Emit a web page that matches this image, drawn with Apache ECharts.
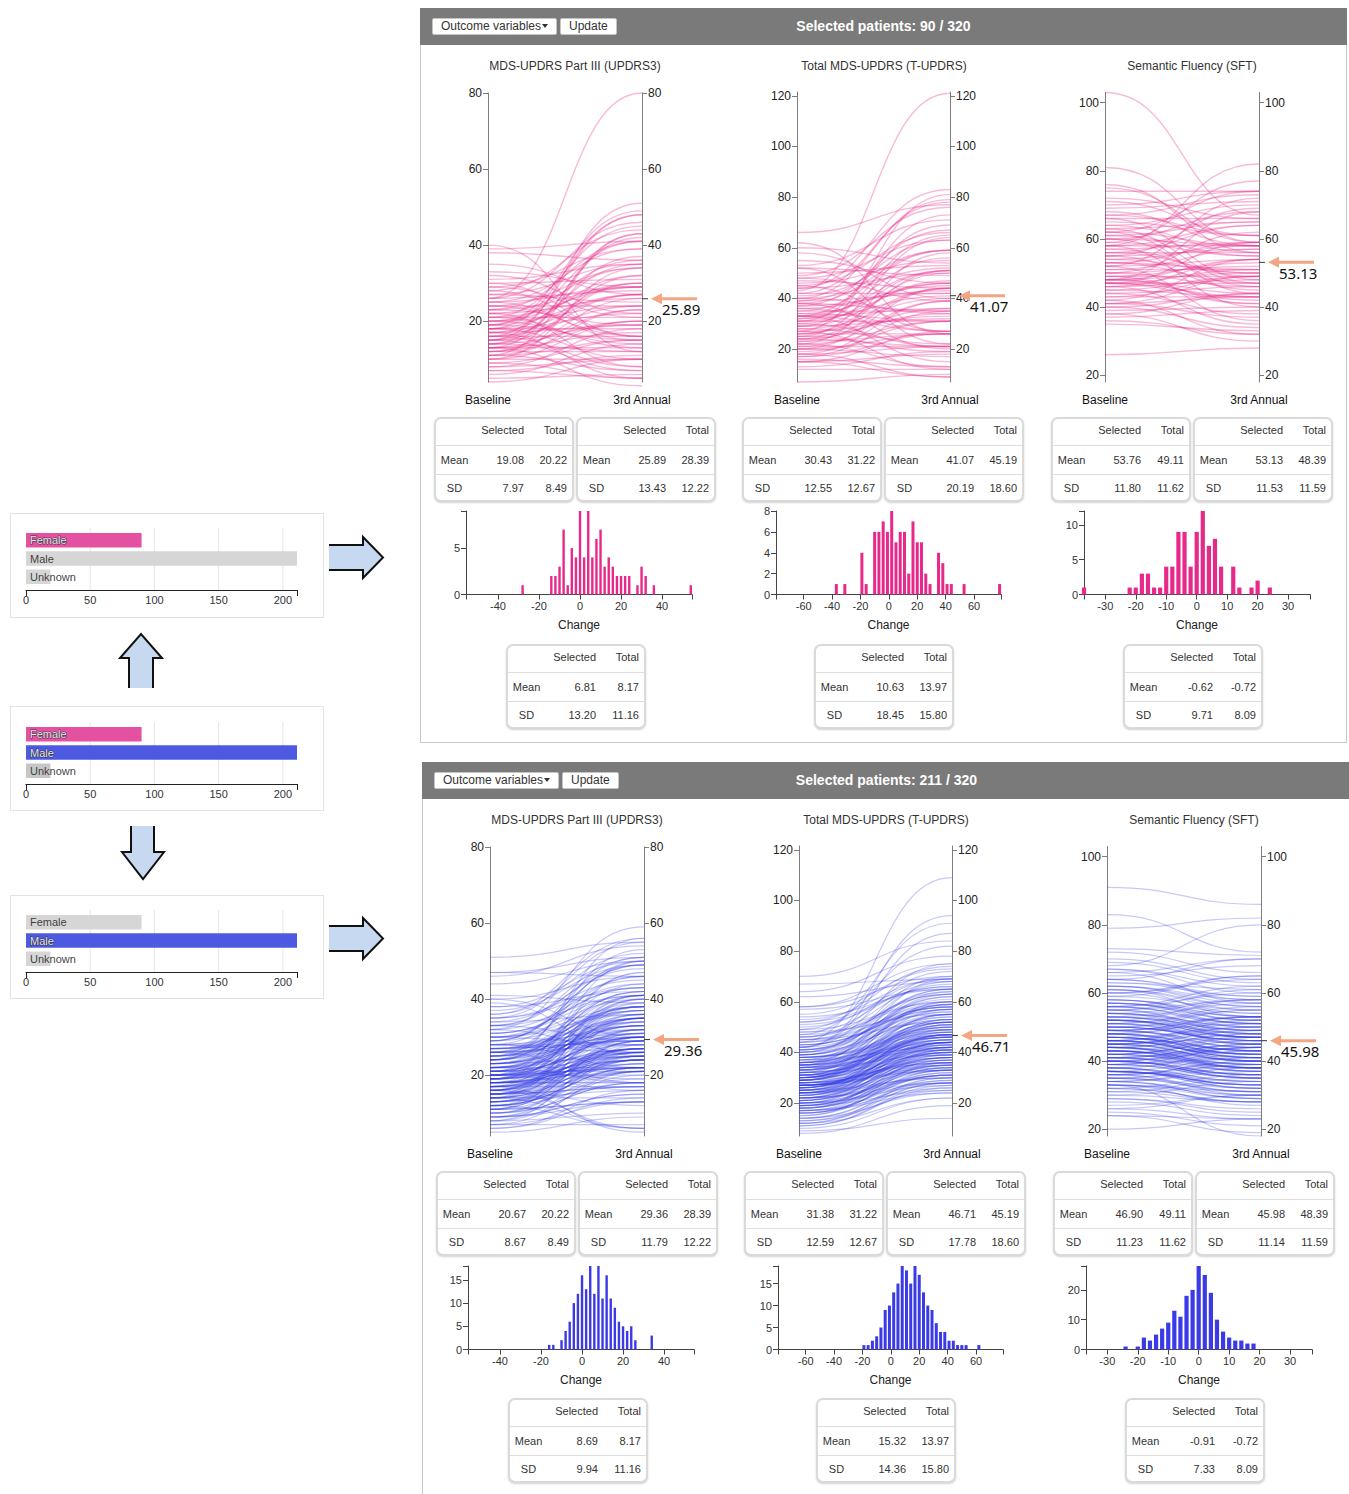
<!DOCTYPE html>
<html lang="en">
<head>
<meta charset="utf-8">
<title>Outcome change by sex</title>
<script src="https://cdn.jsdelivr.net/npm/echarts@6.0.0/dist/echarts.min.js"></script>
<style>
html,body{margin:0;padding:0;background:#fff;}
body{font-family:"Liberation Sans",Arial,Helvetica,sans-serif;color:#333;}
#page{position:relative;width:1349px;height:1494px;overflow:hidden;}
.box{position:absolute;border:1px solid #e3e3e3;background:#fff;}
.panel{position:absolute;border:1px solid #c9c9c9;background:#fff;}
.phead{position:absolute;left:-1px;top:-1px;right:-1px;height:37px;background:#7a7a7a;}
.phead .count{position:absolute;left:0;right:0;top:0;line-height:36px;text-align:center;color:#fff;font-weight:bold;font-size:14px;}
.btn{position:absolute;top:10px;height:15px;line-height:15px;background:#fff;border:1px solid #c4c4c4;border-radius:2px;font-size:12px;color:#333;padding:0 8px;white-space:nowrap;}
.caret{display:inline-block;width:0;height:0;border-left:3.5px solid transparent;border-right:3.5px solid transparent;border-top:4px solid #333;vertical-align:middle;margin-left:1px;margin-top:-2px;}
.otitle{position:absolute;font-size:12px;line-height:14px;color:#333;transform:translateX(-50%);white-space:nowrap;}
#shapes{position:absolute;left:0;top:0;z-index:1;}
#chart{position:absolute;left:0;top:0;width:1349px;height:1494px;z-index:2;}
.tbl{position:absolute;z-index:3;width:136px;border:2px solid #dadada;border-radius:7px;background:#fff;box-shadow:0 1px 2px rgba(0,0,0,0.18);font-size:11px;color:#333;}
.tbl .row{display:flex;align-items:center;border-bottom:1px solid #dedede;box-sizing:border-box;}
.tbl .row.h{height:27px;padding-bottom:4px;}
.tbl .row.m{height:29px;}
.tbl .row.s{height:25px;border-bottom:none;}
.tbl .c1{width:37px;text-align:center;}
.tbl .c2{width:51px;text-align:right;}
.tbl .c3{width:43px;text-align:right;}
</style>
</head>
<body>
<div id="page">
  <div class="box" style="left:10px;top:513px;width:312px;height:103px;"></div>
  <div class="box" style="left:10px;top:706px;width:312px;height:103px;"></div>
  <div class="box" style="left:10px;top:895px;width:312px;height:102px;"></div>

  <svg id="shapes" width="1349" height="1494">
    <g fill="#c6d9f0" stroke="none">
      <polygon points="329,545 363,545 363,537 383,557.5 363,578 363,570 329,570"/>
      <polygon points="329,926 363,926 363,918 383,938.5 363,959 363,951 329,951"/>
      <polygon points="129,688 129,658 120,658 141,634 162,658 153,658 153,688"/>
      <polygon points="131,826 131,852 122,852 143,879 164,852 154,852 154,826"/>
    </g>
    <g fill="none" stroke="#111" stroke-width="2" stroke-linejoin="miter">
      <polyline points="329,545 363,545 363,537 383,557.5 363,578 363,570 329,570"/>
      <polyline points="329,926 363,926 363,918 383,938.5 363,959 363,951 329,951"/>
      <polyline points="129,688 129,658 120,658 141,634 162,658 153,658 153,688"/>
      <polyline points="131,826 131,852 122,852 143,879 164,852 154,852 154,826"/>
    </g>
  </svg>

  <div class="panel" id="panelF" style="left:420px;top:8px;width:925px;height:733px;">
    <div class="phead"><div class="btn" style="left:12px;">Outcome variables<span class="caret"></span></div><div class="btn" style="left:140px;">Update</div><div class="count" id="countF"></div></div>
  </div>
  <div class="panel" id="panelM" style="left:422px;top:762px;width:927px;height:740px;">
    <div class="phead"><div class="btn" style="left:12px;">Outcome variables<span class="caret"></span></div><div class="btn" style="left:140px;">Update</div><div class="count" id="countM"></div></div>
  </div>

  <div id="chart"></div>
</div>

<script>
// ---------------- data ----------------
const outcomeNames = ['MDS-UPDRS Part III (UPDRS3)', 'Total MDS-UPDRS (T-UPDRS)', 'Semantic Fluency (SFT)'];
const visitLabels = ['Baseline', '3rd Annual'];
const axisMin = [4, 7, 18];
const axisMax = [80, 121.5, 103];
const axisTicks = [[20, 40, 60, 80], [20, 40, 60, 80, 100, 120], [20, 40, 60, 80, 100]];

const sexLabels = ['Female', 'Male', 'Unknown'];
const sexCounts = [90, 211, 19];
const sexTicks = [0, 50, 100, 150, 200];
const totalPatients = 320;

const changeMin = [-55.6, -79.5, -37];
const changeMax = [54.6, 79, 37.2];
const changeTicks = [[-40, -20, 0, 20, 40], [-60, -40, -20, 0, 20, 40, 60], [-30, -20, -10, 0, 10, 20, 30]];
const femaleCountMax = [9, 8, 12];
const femaleCountTicks = [[0, 5], [0, 2, 4, 6, 8], [0, 5, 10]];
const maleCountMax = [18, 19, 28];
const maleCountTicks = [[0, 5, 10, 15], [0, 5, 10, 15], [0, 10, 20]];

// Female patients: baseline and 3rd annual scores
const femaleUpdrs3Base = [26,40,30,22,17,28,13,32,25,18, 21,35,15,24,29,16,20,11,23,33, 9,19,14,27,7,38,10,13,18,21,
  5,24,16,30,12,8,17,26,39,15, 20,11,22,7,31,18,13,25,14,9, 23,4,19,12,27,16,6,21,10,17,
  24,13,20,8,29,15,22,11,18,12, 25,16,20,14,28,17,23,12,26,19, 15,21,10,14,18,13,19,16,11,15];
const femaleUpdrs3Annual = [80,12,16,8,5,16,3,22,15,10, 13,27,7,16,21,8,14,7,19,29, 5,15,12,25,5,36,10,13,18,21,
  6,24,16,31,12,10,19,28,41,19, 24,15,26,11,35,22,17,29,20,15, 29,10,27,20,35,24,14,29,20,27,
  34,23,30,18,39,27,34,23,32,26, 39,30,36,30,44,35,41,32,46,41, 37,45,34,42,48,43,49,48,43,51];
const femaleTupdrsBase = [43,66,62,52,45,38,33,58,27,48, 30,22,36,18,55,25,40,15,33,60, 28,20,34,47,16,38,24,52,12,31,
  21,42,26,35,7,18,29,39,23,50, 15,33,20,27,37,13,44,25,32,17, 46,22,36,28,19,40,24,34,15,31,
  48,26,33,21,41,17,29,53,38,23, 30,18,45,35,26,20,39,32,49,24, 37,42,29,22,33,44,25,40,31,27];
const femaleTupdrsAnnual = [121,77,26,22,27,20,15,40,12,39, 21,13,27,9,46,19,34,9,27,54, 22,17,31,44,13,35,21,49,12,31,
  21,42,26,35,10,21,32,42,26,53, 18,36,26,33,43,19,50,34,41,26, 55,31,45,40,31,52,36,46,27,46,
  63,44,51,39,59,35,47,71,59,44, 51,39,66,59,50,44,63,56,76,51, 67,78,65,58,69,83,64,79,73,81];
const femaleSftBase = [103,81,76,62,66,58,75,63,52,60, 46,55,68,42,71,49,38,64,57,48, 53,61,40,67,47,56,44,72,50,59,
  41,65,48,54,36,62,47,53,45,60, 35,49,56,43,66,51,39,58,47,74, 48,52,41,63,46,57,37,50,69,44,
  55,26,47,54,40,61,49,70,45,51, 43,64,48,58,38,53,67,46,56,41, 60,50,42,62,47,55,59,48,52,58];
const femaleSftAnnual = [67,59,56,44,48,40,59,47,36,46, 35,45,58,32,61,41,30,56,49,42, 47,55,34,61,41,50,38,66,46,55,
  37,61,44,50,32,58,43,51,43,58, 33,49,56,43,66,51,40,58,47,74, 50,54,43,65,48,59,39,52,71,46,
  57,28,51,58,44,65,53,74,49,57, 49,70,54,64,44,59,73,54,64,49, 68,62,54,74,59,69,77,68,72,82];

// Male patients: baseline and 3rd annual scores
const maleUpdrs3Base = [5,12,18,22,27,33,15,20,9,24, 17,30,11,21,26,14,38,19,8,23, 16,28,13,35,20,7,25,18,31,12,
  22,15,40,19,10,27,24,16,21,34, 18,13,26,9,29,20,47,14,23,17, 25,11,32,19,6,21,15,36,28,12,
  20,16,24,8,30,18,14,22,39,26, 13,19,27,10,23,17,33,15,21,7, 24,18,29,12,20,16,41,22,11,26,
  15,21,9,31,19,14,25,17,35,23, 12,28,20,16,46,18,22,10,27,14, 21,33,17,24,8,19,26,13,30,16,
  19,23,11,37,15,20,28,18,6,25, 14,22,18,29,12,51,20,16,34,24, 17,9,26,21,15,32,19,13,23,40,
  27,16,22,11,30,18,25,14,20,36, 10,23,19,28,15,21,7,26,17,33, 22,13,31,18,24,16,29,20,12,38,
  19,25,15,21,44,17,27,11,23,14, 18,30,20,9,26,16,22,35,13,24, 21,17,28,19,14,25,32,20,15,18,47];
const maleUpdrs3Annual = [9,22,24,36,35,29,27,22,25,44, 17,38,29,27,18,24,42,41,10,35, 24,26,27,45,24,13,41,18,43,6,
  32,39,46,31,18,29,42,6,25,48, 24,29,30,21,49,20,51,24,31,31, 37,13,26,27,16,47,21,52,32,30,
  16,28,34,28,36,26,14,38,25,38, 17,47,29,24,33,23,51,23,33,7, 32,32,51,22,22,34,39,28,35,30,
  25,21,15,43,35,6,39,21,55,31, 24,34,50,26,54,22,18,26,37,16, 35,41,5,42,20,25,50,21,40,36,
  25,25,21,49,29,36,22,22,14,53, 32,34,18,37,18,55,30,38,36,38, 27,13,42,19,35,44,27,19,41,30,
  33,30,30,13,46,30,29,40,30,56, 18,33,37,28,27,27,21,28,41,49, 26,25,41,26,38,12,49,26,22,50,
  35,33,17,33,50,27,31,29,37,22, 40,28,30,15,38,32,22,43,23,56, 35,25,46,23,26,35,59,40,17,24,46];
const maleTupdrsBase = [8,22,35,18,41,27,30,12,45,25, 33,16,28,50,20,38,24,11,31,43, 26,19,36,14,29,48,22,34,17,40,
  31,24,58,21,37,13,27,44,19,32, 25,39,16,29,52,23,35,10,28,42, 20,30,47,26,15,34,22,38,29,55,
  36,18,27,41,23,32,12,46,24,30, 28,64,21,33,17,39,26,49,31,19, 34,25,43,20,30,14,37,27,53,22,
  29,40,18,35,24,45,31,11,26,38, 23,32,57,27,19,36,42,25,30,16, 38,21,29,48,33,24,13,35,27,44,
  26,35,20,31,62,28,39,17,42,30, 33,22,46,27,15,37,24,51,29,20, 41,28,34,19,25,58,32,23,38,14,
  30,45,21,36,27,16,40,26,34,49, 24,31,18,43,29,35,22,67,28,37, 32,26,39,20,47,30,12,36,25,42,
  27,34,23,52,31,18,44,29,38,21, 35,28,41,25,33,70,22,30,39,17, 29,36,24,46,32,19,27,54,33,40,9];
const maleTupdrsAnnual = [19,38,52,31,60,33,49,28,58,44, 45,31,36,69,41,55,30,27,53,57, 48,25,44,30,45,68,41,39,33,62,
  52,40,70,35,42,25,47,59,36,46, 38,58,28,51,66,44,48,22,33,75, 34,46,60,43,36,54,28,49,47,73,
  63,32,38,56,40,42,30,63,39,55, 41,78,37,50,24,65,44,60,47,35, 44,49,58,33,52,29,57,35,69,38,
  36,68,34,46,42,63,40,26,51,47, 43,60,65,42,31,52,87,30,45,32, 50,37,53,55,46,35,28,69,40,64,
  47,41,39,49,68,44,59,29,94,38, 55,30,72,36,33,46,45,66,52,27, 61,47,43,35,38,75,57,41,53,24,
  48,52,44,62,34,31,70,39,51,82, 33,55,38,57,50,45,42,69,37,64, 43,46,54,28,91,51,22,49,42,58,
  40,60,36,74,39,34,109,45,48,40, 59,37,65,44,47,84,31,53,56,26, 44,50,47,67,41,37,42,65,59,53,14];
const maleSftBase = [91,83,79,73,70,67,62,58,55,52, 49,47,45,43,41,39,37,35,33,30, 20,25,27,29,32,34,36,38,40,42,
  44,46,48,50,51,53,54,56,57,59, 60,61,63,64,66,68,72,48,45,42, 40,38,36,34,52,50,47,44,41,39,
  37,35,33,31,28,26,24,55,53,51, 49,46,43,40,58,56,54,62,65,48, 45,42,39,36,33,30,47,44,41,38,
  50,52,54,46,43,40,37,57,60,63, 48,45,42,39,51,49,46,44,41,35, 32,29,56,53,50,47,45,43,41,38,
  36,34,31,57,55,52,49,47,44,42, 40,37,59,61,64,67,50,48,46,43, 41,39,36,33,53,51,48,46,44,42,
  39,37,34,58,56,54,51,49,47,45, 43,40,38,35,62,60,57,55,52,50, 47,45,42,40,37,64,66,69,46,44,
  41,38,35,32,54,52,49,47,45,43, 40,37,34,56,53,50,48,46,44,26, 61,58,55,52,49,46,43,40,37,33,24];
const maleSftAnnual = [86,72,82,71,64,60,58,53,58,48, 51,40,47,38,45,36,33,39,30,28, 23,21,30,26,28,38,31,43,35,47,
  40,52,43,46,56,49,50,62,51,55, 65,53,59,70,57,80,66,41,50,38, 44,32,40,29,45,55,42,48,37,41,
  34,38,27,35,24,30,19,48,57,45, 53,41,47,36,52,60,47,57,68,44, 40,46,35,39,29,34,43,38,45,33,
  47,58,49,50,37,43,32,53,54,61, 52,42,38,44,46,45,51,40,36,31, 36,25,51,48,53,42,49,39,44,34,
  30,37,28,52,61,47,44,50,41,37, 35,41,65,55,59,62,46,53,42,40, 38,35,40,31,47,55,43,41,48,39,
  44,33,30,53,51,58,47,45,43,49, 39,36,42,32,56,64,52,49,48,46, 43,40,46,35,33,58,70,63,41,39,
  37,34,31,28,50,47,53,42,40,38, 45,33,29,50,49,46,43,41,38,23, 56,54,51,47,44,42,38,36,32,18,23];

// Change histograms: bin position and patient count
const femaleUpdrs3Bins = [-28,-14,-12,-10,-8,-6,-4,-2,0,2,4,6,8,10,12,14,16,18,20,22,24,28,30,32,36,54];
const femaleUpdrs3Counts = [1,2,2,3,7,1,5,4,9,4,9,4,6,7,3,4,3,2,2,2,2,1,3,2,1,1];
const femaleTupdrsBins = [-37,-31,-19,-16,-10,-7,-4,-1,2,5,8,11,14,17,20,23,26,29,35,38,41,44,53,78];
const femaleTupdrsCounts = [1,1,4,1,6,6,7,6,8,5,6,6,2,7,5,5,2,1,4,3,1,1,1,1];
const femaleSftBins = [-37,-22,-20,-18,-16,-14,-12,-10,-8,-6,-4,-2,0,2,4,6,8,12,14,18,20,24];
const femaleSftCounts = [1,1,1,3,3,1,1,4,4,9,9,4,9,12,7,8,4,4,1,1,2,1];
const maleUpdrs3Bins = [-16,-14,-10,-8,-6,-4,-2,0,2,4,6,8,10,12,14,16,18,20,22,24,26,34];
const maleUpdrs3Counts = [1,1,2,4,6,10,12,16,13,18,12,18,11,16,11,9,6,5,4,5,2,3];
const maleTupdrsBins = [-19,-16,-13,-10,-7,-4,-1,2,5,8,11,14,17,20,23,26,29,32,35,38,41,44,47,50,53,62];
const maleTupdrsCounts = [1,1,2,3,5,9,10,13,15,19,18,15,19,17,13,10,9,6,4,4,2,2,1,1,1,1];
const maleSftBins = [-24,-20,-18,-16,-14,-12,-10,-8,-6,-4,-2,0,2,4,6,8,10,12,14,16,18];
const maleSftCounts = [1,1,4,3,5,7,9,13,11,18,20,28,25,19,10,6,4,3,3,2,2];

// Summary statistics (selected group vs whole cohort)
const femaleBaseMean = [19.08, 30.43, 53.76];
const femaleBaseSD = [7.97, 12.55, 11.80];
const femaleAnnualMean = [25.89, 41.07, 53.13];
const femaleAnnualSD = [13.43, 20.19, 11.53];
const femaleChangeMean = [6.81, 10.63, -0.62];
const femaleChangeSD = [13.20, 18.45, 9.71];
const maleBaseMean = [20.67, 31.38, 46.90];
const maleBaseSD = [8.67, 12.59, 11.23];
const maleAnnualMean = [29.36, 46.71, 45.98];
const maleAnnualSD = [11.79, 17.78, 11.14];
const maleChangeMean = [8.69, 15.32, -0.91];
const maleChangeSD = [9.94, 14.36, 7.33];
const totalBaseMean = [20.22, 31.22, 49.11];
const totalBaseSD = [8.49, 12.67, 11.62];
const totalAnnualMean = [28.39, 45.19, 48.39];
const totalAnnualSD = [12.22, 18.60, 11.59];
const totalChangeMean = [8.17, 13.97, -0.72];
const totalChangeSD = [11.16, 15.80, 8.09];

// ---------------- layout & styling ----------------
const FONT = '"Liberation Sans", Arial, Helvetica, sans-serif';
const PINK = '#e7298a';
const BLUE = '#3a3ae6';
const GRAY = '#d4d4d4';

const pcLeft = [488, 797, 1105];
const pcWidth = [154, 153, 154];
const pcTop = [93, 92, 92.5];
const pcBottom = 382;
const titleCenter = [575, 884, 1192];
const histLeft = [466, 776, 1084];
const histWidth = [226, 225, 226];
const histTop = 511;
const histBottom = 594.5;
const histBarWidth = [2.4, 3, 4.2];
const baseTableLeft = [434, 742, 1051];
const annualTableLeft = [576, 884, 1193];
const changeTableLeft = [506, 814, 1123];

const cohorts = [
  {
    count: sexCounts[0], ox: 0, oy: 0, hy: 0, countEl: 'countF',
    lineColor: 'rgba(231,41,138,0.32)', lineWidth: 1.4, barColor: PINK,
    base: [femaleUpdrs3Base, femaleTupdrsBase, femaleSftBase],
    annual: [femaleUpdrs3Annual, femaleTupdrsAnnual, femaleSftAnnual],
    bins: [femaleUpdrs3Bins, femaleTupdrsBins, femaleSftBins],
    counts: [femaleUpdrs3Counts, femaleTupdrsCounts, femaleSftCounts],
    countMax: femaleCountMax, countTicks: femaleCountTicks,
    baseMean: femaleBaseMean, baseSD: femaleBaseSD,
    annualMean: femaleAnnualMean, annualSD: femaleAnnualSD,
    changeMean: femaleChangeMean, changeSD: femaleChangeSD
  },
  {
    count: sexCounts[1], ox: 2, oy: 754, hy: 755, countEl: 'countM',
    lineColor: 'rgba(45,55,228,0.27)', lineWidth: 1.2, barColor: BLUE,
    base: [maleUpdrs3Base, maleTupdrsBase, maleSftBase],
    annual: [maleUpdrs3Annual, maleTupdrsAnnual, maleSftAnnual],
    bins: [maleUpdrs3Bins, maleTupdrsBins, maleSftBins],
    counts: [maleUpdrs3Counts, maleTupdrsCounts, maleSftCounts],
    countMax: maleCountMax, countTicks: maleCountTicks,
    baseMean: maleBaseMean, baseSD: maleBaseSD,
    annualMean: maleAnnualMean, annualSD: maleAnnualSD,
    changeMean: maleChangeMean, changeSD: maleChangeSD
  }
];

const page = document.getElementById('page');

function addTitle(text, cx, cy) {
  const d = document.createElement('div');
  d.className = 'otitle';
  d.style.left = cx + 'px';
  d.style.top = (cy - 7) + 'px';
  d.textContent = text;
  d.style.zIndex = 3;
  page.appendChild(d);
}

function addTable(left, top, selMean, selSD, totMean, totSD) {
  const t = document.createElement('div');
  t.className = 'tbl';
  t.style.left = left + 'px';
  t.style.top = top + 'px';
  const f = v => v.toFixed(2);
  t.innerHTML =
    '<div class="row h"><span class="c1"></span><span class="c2">Selected</span><span class="c3">Total</span></div>' +
    '<div class="row m"><span class="c1">Mean</span><span class="c2">' + f(selMean) + '</span><span class="c3">' + f(totMean) + '</span></div>' +
    '<div class="row s"><span class="c1">SD</span><span class="c2">' + f(selSD) + '</span><span class="c3">' + f(totSD) + '</span></div>';
  page.appendChild(t);
}

const grids = [], xAxes = [], yAxes = [], series = [];

function addParallel(c, k) {
  const gi = grids.length;
  const left = pcLeft[k] + c.ox;
  const top = pcTop[k] + c.oy;
  grids.push({ left, top, width: pcWidth[k], height: pcBottom + c.oy - top, containLabel: false, outerBoundsMode: 'none' });
  const xi = xAxes.length;
  xAxes.push({
    gridIndex: gi, type: 'value', min: 0, max: 1,
    axisLine: { show: false }, axisTick: { show: false }, splitLine: { show: false },
    axisLabel: { customValues: [0, 1], formatter: v => visitLabels[v], margin: 12, fontSize: 12, color: '#111', fontFamily: FONT }
  });
  const yi = yAxes.length;
  ['left', 'right'].forEach(pos => {
    yAxes.push({
      gridIndex: gi, type: 'value', position: pos, min: axisMin[k], max: axisMax[k],
      axisLine: { show: true, onZero: false, lineStyle: { color: '#7d7d7d' } },
      axisTick: { show: true, customValues: axisTicks[k], length: 5, lineStyle: { color: '#7d7d7d' } },
      axisLabel: { customValues: axisTicks[k], fontSize: 12, color: '#222', margin: 6, fontFamily: FONT },
      splitLine: { show: false }
    });
  });
  const base = c.base[k], annual = c.annual[k];
  const n = Math.min(base.length, annual.length);
  const pairs = [];
  for (let i = 0; i < n; i++) pairs.push([base[i], annual[i]]);
  // one smooth curve per patient from the baseline axis to the 3rd annual axis
  series.push({
    type: 'custom', xAxisIndex: xi, yAxisIndex: yi, data: pairs, silent: true, clip: false, z: 2,
    renderItem(params, api) {
      const p0 = api.coord([0, api.value(0)]);
      const p1 = api.coord([1, api.value(1)]);
      const mx = (p0[0] + p1[0]) / 2;
      return {
        type: 'bezierCurve',
        shape: { x1: p0[0], y1: p0[1], x2: p1[0], y2: p1[1], cpx1: mx, cpy1: p0[1], cpx2: mx, cpy2: p1[1] },
        style: { stroke: c.lineColor, lineWidth: c.lineWidth, fill: null }
      };
    }
  });
  // mean marker on the 3rd annual axis
  series.push({
    type: 'custom', xAxisIndex: xi, yAxisIndex: yi, data: [[1, c.annualMean[k]]], silent: true, clip: false, z: 6,
    renderItem(params, api) {
      const p = api.coord([1, api.value(1)]);
      const x = p[0], y = p[1];
      return {
        type: 'group', children: [
          { type: 'line', shape: { x1: x, y1: y, x2: x + 6, y2: y }, style: { stroke: '#333', lineWidth: 1 } },
          { type: 'line', shape: { x1: x + 17, y1: y, x2: x + 55, y2: y }, style: { stroke: '#f4a582', lineWidth: 3 } },
          { type: 'polygon', shape: { points: [[x + 9, y], [x + 20, y - 5.5], [x + 20, y + 5.5]] }, style: { fill: '#f4a582' } },
          { type: 'text', x: x + 20, y: y + 10.5, style: { text: api.value(1).toFixed(2), font: '15px "Noto Sans", "Open Sans", sans-serif', fill: '#111', verticalAlign: 'middle', align: 'left' } }
        ]
      };
    }
  });
}

function addHistogram(c, k) {
  const gi = grids.length;
  grids.push({ left: histLeft[k] + c.ox, top: histTop + c.hy, width: histWidth[k], height: histBottom - histTop, containLabel: false, outerBoundsMode: 'none' });
  const xi = xAxes.length;
  xAxes.push({
    gridIndex: gi, type: 'value', min: changeMin[k], max: changeMax[k],
    axisLine: { show: true, onZero: false, lineStyle: { color: '#444' } },
    axisTick: { show: true, customValues: [changeMin[k]].concat(changeTicks[k], [changeMax[k]]), length: 5, lineStyle: { color: '#444' } },
    axisLabel: { customValues: changeTicks[k], fontSize: 11, color: '#333', margin: 6, fontFamily: FONT },
    splitLine: { show: false },
    name: 'Change', nameLocation: 'middle', nameGap: 24,
    nameTextStyle: { fontSize: 12, color: '#222', fontFamily: FONT }
  });
  const yi = yAxes.length;
  yAxes.push({
    gridIndex: gi, type: 'value', min: 0, max: c.countMax[k],
    axisLine: { show: true, onZero: false, lineStyle: { color: '#444' } },
    axisTick: { show: true, customValues: c.countTicks[k].concat([c.countMax[k]]), length: 5, lineStyle: { color: '#444' } },
    axisLabel: { customValues: c.countTicks[k], fontSize: 11, color: '#333', margin: 6, fontFamily: FONT },
    splitLine: { show: false }
  });
  const bins = c.bins[k], counts = c.counts[k];
  const data = bins.map((b, i) => [b, counts[i]]);
  const w = histBarWidth[k];
  series.push({
    type: 'custom', xAxisIndex: xi, yAxisIndex: yi, data, silent: true, clip: false, z: 3,
    renderItem(params, api) {
      const top = api.coord([api.value(0), api.value(1)]);
      const bottom = api.coord([api.value(0), 0]);
      return { type: 'rect', shape: { x: top[0] - w / 2, y: top[1], width: w, height: bottom[1] - top[1] }, style: { fill: c.barColor } };
    }
  });
}

// sex filter bar charts on the left
const sexPanels = [
  { top: 531, colors: ['#e3489c', GRAY, GRAY], strong: [true, false, false] },
  { top: 725, colors: ['#e3489c', '#4450e0', '#c3c3c3'], strong: [true, true, false] },
  { top: 913, colors: [GRAY, '#4450e0', GRAY], strong: [false, true, false] }
];
const sexMax = Math.max.apply(null, sexCounts);

function addSexChart(p) {
  const gi = grids.length;
  grids.push({ left: 26, top: p.top, width: 271, height: 55, containLabel: false, outerBoundsMode: 'none' });
  const xi = xAxes.length;
  xAxes.push({
    gridIndex: gi, type: 'value', min: 0, max: sexMax, offset: 4,
    axisLine: { show: true, onZero: false, lineStyle: { color: '#222' } },
    axisTick: { show: true, customValues: [0, sexMax], length: 6, lineStyle: { color: '#222' } },
    axisLabel: { customValues: sexTicks, fontSize: 11, color: '#333', margin: 4, fontFamily: FONT },
    splitLine: { show: false }
  });
  const yi = yAxes.length;
  yAxes.push({ gridIndex: gi, type: 'category', data: sexLabels, inverse: true, show: false });
  series.push({
    type: 'custom', xAxisIndex: xi, yAxisIndex: yi, silent: true, clip: false, z: 1,
    data: sexTicks.slice(1).map(v => [v, 0]),
    renderItem(params, api) {
      const x = api.coord([api.value(0), 0])[0];
      const cs = params.coordSys;
      return { type: 'line', shape: { x1: x, y1: cs.y - 3, x2: x, y2: cs.y + cs.height + 4 }, style: { stroke: '#e6e6e6', lineWidth: 1 } };
    }
  });
  series.push({
    type: 'bar', xAxisIndex: xi, yAxisIndex: yi, barWidth: 14.5, silent: true, z: 2,
    data: sexCounts.map((v, i) => ({
      value: v,
      itemStyle: { color: p.colors[i], opacity: 0.95 },
      label: p.strong[i]
        ? { color: '#f4f4ff', textBorderColor: '#333', textBorderWidth: 1 }
        : { color: '#333' }
    })),
    label: { show: true, position: 'insideLeft', distance: 4, formatter: '{b}', fontSize: 11, fontFamily: FONT, overflow: 'none' }
  });
}

cohorts.forEach(c => {
  document.getElementById(c.countEl).textContent = 'Selected patients: ' + c.count + ' / ' + totalPatients;
  for (let k = 0; k < 3; k++) {
    addParallel(c, k);
    addHistogram(c, k);
    addTitle(outcomeNames[k], titleCenter[k] + c.ox, 66 + c.oy);
    addTable(baseTableLeft[k] + c.ox, 417 + c.oy, c.baseMean[k], c.baseSD[k], totalBaseMean[k], totalBaseSD[k]);
    addTable(annualTableLeft[k] + c.ox, 417 + c.oy, c.annualMean[k], c.annualSD[k], totalAnnualMean[k], totalAnnualSD[k]);
    addTable(changeTableLeft[k] + c.ox, 644 + c.oy, c.changeMean[k], c.changeSD[k], totalChangeMean[k], totalChangeSD[k]);
  }
});
sexPanels.forEach(addSexChart);

const chart = echarts.init(document.getElementById('chart'), null, { renderer: 'svg', width: 1349, height: 1494 });
chart.setOption({
  animation: false,
  backgroundColor: 'transparent',
  textStyle: { fontFamily: FONT },
  grid: grids,
  xAxis: xAxes,
  yAxis: yAxes,
  series: series
});
</script>
</body>
</html>
